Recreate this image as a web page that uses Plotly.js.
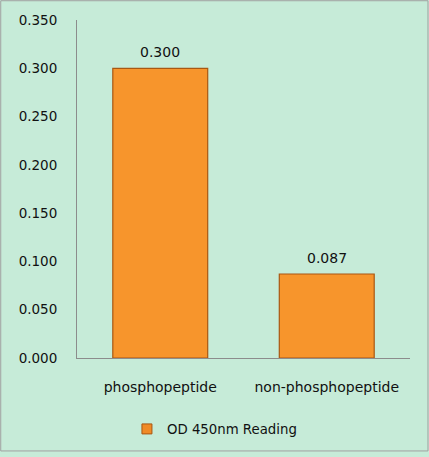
<!DOCTYPE html>
<html>
<head>
<meta charset="utf-8">
<script src="https://cdn.plot.ly/plotly-3.0.1.min.js"></script>
<style>
  html, body { margin: 0; padding: 0; background: #c6ebd8; }
  #chart { width: 429px; height: 457px; }
</style>
</head>
<body>
<div id="chart"></div>
<script>
var categories = ['phosphopeptide', 'non-phosphopeptide'];
var readings = [0.300, 0.087];
var readingLabels = ['0.300', '0.087'];
var yTicks = [0, 0.05, 0.1, 0.15, 0.2, 0.25, 0.3, 0.35];
var yTickText = ['0.000', '0.050', '0.100', '0.150', '0.200', '0.250', '0.300', '0.350'];

var font = 'DejaVu Sans, Verdana, sans-serif';
var ink = '#111111';

var plots = [{
    type: 'bar',
    x: categories,
    y: readings,
    name: 'OD 450nm Reading',
    showlegend: false,
    marker: {
        color: '#f7952c',
        line: { color: '#a95712', width: 1.2 }
    },
    hoverinfo: 'none'
}, {
    // legend entry only
    type: 'scatter',
    mode: 'markers',
    x: [null],
    y: [null],
    name: 'OD 450nm Reading',
    marker: {
        symbol: 'square',
        size: 10,
        color: '#f08a26',
        line: { color: '#a95712', width: 1 }
    }
}];

var annotations = [];
for (var i = 0; i < categories.length; i++) {
    annotations.push({
        x: categories[i],
        y: readings[i],
        text: readingLabels[i],
        showarrow: false,
        yanchor: 'bottom',
        yshift: 6,
        font: { family: font, size: 14, color: ink }
    });
}

var layout = {
    width: 429,
    height: 457,
    paper_bgcolor: '#c6ebd8',
    plot_bgcolor: '#c6ebd8',
    font: { family: font, size: 14, color: ink },
    bargap: 0.43,
    showlegend: true,
    legend: {
        orientation: 'h',
        x: 0.15,
        xanchor: 'left',
        y: -0.165,
        yanchor: 'top',
        bgcolor: 'rgba(0,0,0,0)',
        font: { family: font, size: 13.3, color: ink },
        itemwidth: 30
    },
    xaxis: {
        showgrid: false,
        zeroline: false,
        showline: true,
        linecolor: '#8c8c8c',
        linewidth: 1,
        ticks: '',
        tickfont: { family: font, size: 14, color: ink },
        ticklabelstandoff: 16
    },
    yaxis: {
        range: [0, 0.35],
        tickvals: yTicks,
        ticktext: yTickText,
        showgrid: false,
        zeroline: false,
        showline: true,
        linecolor: '#8c8c8c',
        linewidth: 1,
        ticks: '',
        tickfont: { family: font, size: 13.5, color: ink },
        ticklabelstandoff: 16
    },
    margin: { l: 77, r: 19, t: 20, b: 95 },
    annotations: annotations,
    shapes: [{
        type: 'rect',
        xref: 'paper', yref: 'paper',
        x0: -0.229, x1: 1.054,
        y0: -0.275, y1: 1.057,
        line: { color: '#a0a0a0', width: 1 },
        fillcolor: 'rgba(0,0,0,0)',
        layer: 'below'
    }]
};

Plotly.newPlot('chart', plots, layout, { staticPlot: true });
</script>
</body>
</html>
